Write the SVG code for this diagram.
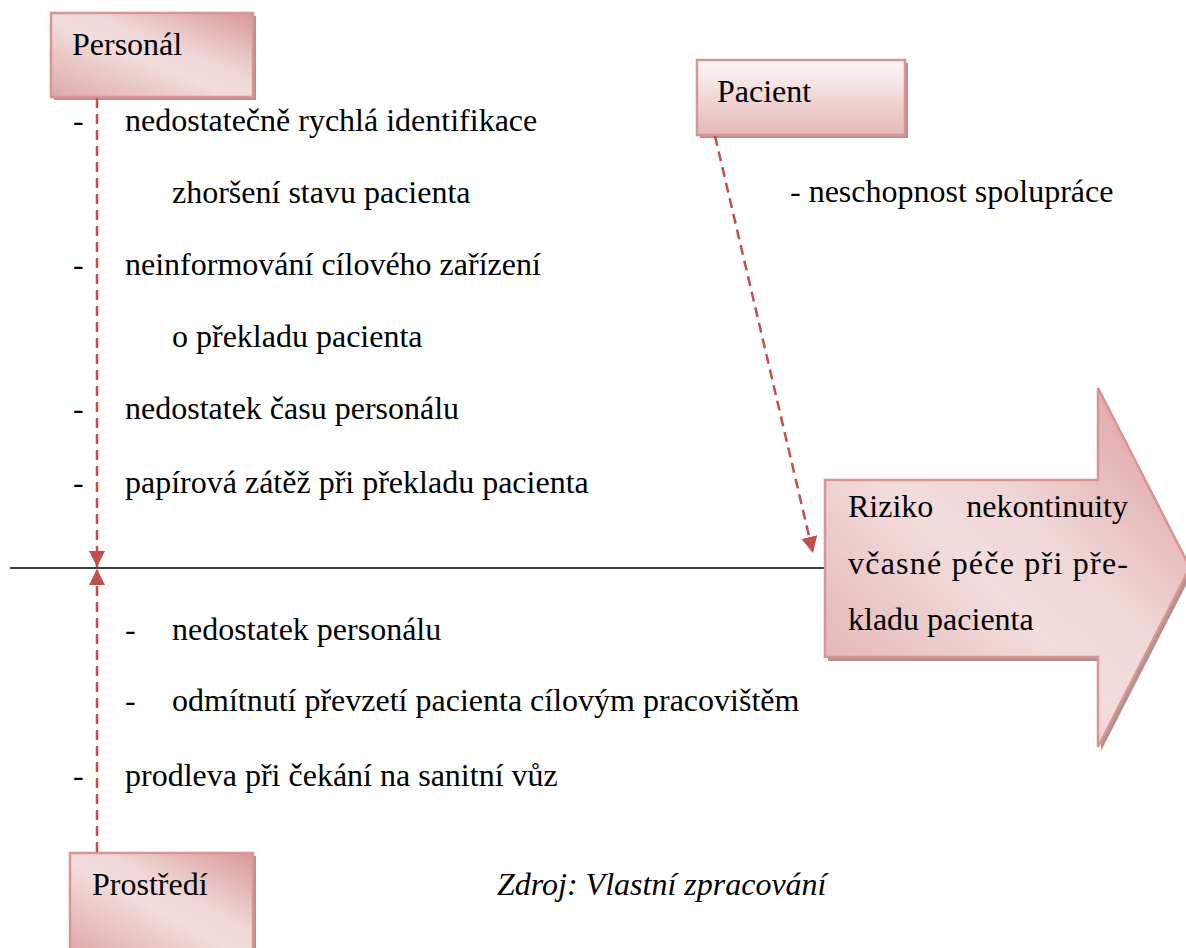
<svg xmlns="http://www.w3.org/2000/svg" width="1186" height="948" viewBox="0 0 1186 948">
  <defs>
    <linearGradient id="gradDiag" x1="0" y1="1" x2="1" y2="0">
      <stop offset="0" stop-color="#dfa9a8"/>
      <stop offset="0.45" stop-color="#f2dcdc"/>
      <stop offset="0.6" stop-color="#f0d7d7"/>
      <stop offset="1" stop-color="#d99897"/>
    </linearGradient>
    <linearGradient id="gradVert" x1="0" y1="0" x2="0" y2="1">
      <stop offset="0" stop-color="#fdf7f7"/>
      <stop offset="1" stop-color="#e5b8b7"/>
    </linearGradient>
    <marker id="head" viewBox="0 0 10 10" refX="10" refY="5" markerWidth="6.5" markerHeight="6.5" orient="auto" markerUnits="strokeWidth">
      <path d="M0,0 L10,5 L0,10 Z" fill="#c0504d"/>
    </marker>
    <path id="arrowShape" d="M825,480 L1098,480 L1098,388 L1190,567.5 L1098,747 L1098,657 L825,657 Z"/>
  </defs>
  <style>
    .shadow { fill: #9c6b6a; opacity: 0.75; }
    .box { stroke: #d99594; stroke-width: 2.5; }
    .conn { fill: none; stroke: #c0504d; stroke-width: 2.5; stroke-dasharray: 10 6; }
    .axis { stroke: #000; stroke-width: 1.6; }
    .it { font-style: italic; }
  </style>

  <rect width="1186" height="948" fill="#fff"/>

  <!-- main axis -->
  <line class="axis" x1="10" y1="568" x2="826" y2="568"/>

  <g font-family="Liberation Serif, Tinos, Times New Roman, DejaVu Serif, serif" font-size="32" fill="#000">

  <!-- effect arrow -->
  <g id="effect">
    <use href="#arrowShape" class="shadow" transform="translate(3,4)"/>
    <use href="#arrowShape" class="box" fill="url(#gradDiag)"/>
    <text x="848" y="517">Riziko</text>
    <text x="1128" y="517" text-anchor="end">nekontinuity</text>
    <text x="848" y="574" textLength="280" lengthAdjust="spacing">včasné péče při pře-</text>
    <text x="848" y="630">kladu pacienta</text>
  </g>

  <!-- cause boxes -->
  <g id="personal">
    <rect class="shadow" x="54" y="16" width="202" height="84"/>
    <rect class="box" x="51" y="13" width="202" height="84" fill="url(#gradDiag)"/>
    <text x="72" y="55">Personál</text>
  </g>

  <g id="pacient">
    <rect class="shadow" x="700" y="63" width="208" height="75"/>
    <rect class="box" x="697" y="60" width="208" height="75" fill="url(#gradVert)"/>
    <text x="717" y="102">Pacient</text>
  </g>

  <g id="prostredi">
    <rect class="shadow" x="73" y="856" width="183" height="100"/>
    <rect class="box" x="70" y="853" width="183" height="100" fill="url(#gradDiag)"/>
    <text x="92" y="895">Prostředí</text>
  </g>

  <!-- connectors -->
  <g id="connectors">
    <line class="conn" x1="97" y1="98" x2="97" y2="567" marker-end="url(#head)"/>
    <line class="conn" x1="97" y1="852" x2="97" y2="569" marker-end="url(#head)"/>
    <line class="conn" x1="715" y1="136" x2="813" y2="553" marker-end="url(#head)"/>
  </g>

  <!-- personnel causes -->
  <g id="personal-causes">
    <text x="73" y="131">-</text>
    <text x="125" y="131">nedostatečně rychlá identifikace</text>
    <text x="172" y="203">zhoršení stavu pacienta</text>
    <text x="73" y="275">-</text>
    <text x="125" y="275">neinformování cílového zařízení</text>
    <text x="172" y="347">o překladu pacienta</text>
    <text x="73" y="419">-</text>
    <text x="125" y="419">nedostatek času personálu</text>
    <text x="73" y="493">-</text>
    <text x="125" y="493">papírová zátěž při překladu pacienta</text>
  </g>

  <!-- patient causes -->
  <g id="pacient-causes">
    <text x="790" y="202">- neschopnost spolupráce</text>
  </g>

  <!-- environment causes -->
  <g id="prostredi-causes">
    <text x="125" y="640">-</text>
    <text x="172" y="640">nedostatek personálu</text>
    <text x="125" y="711">-</text>
    <text x="172" y="711">odmítnutí převzetí pacienta cílovým pracovištěm</text>
    <text x="73" y="786">-</text>
    <text x="125" y="786">prodleva při čekání na sanitní vůz</text>
  </g>

  <text class="it" x="497" y="895">Zdroj: Vlastní zpracování</text>
  </g>
</svg>
